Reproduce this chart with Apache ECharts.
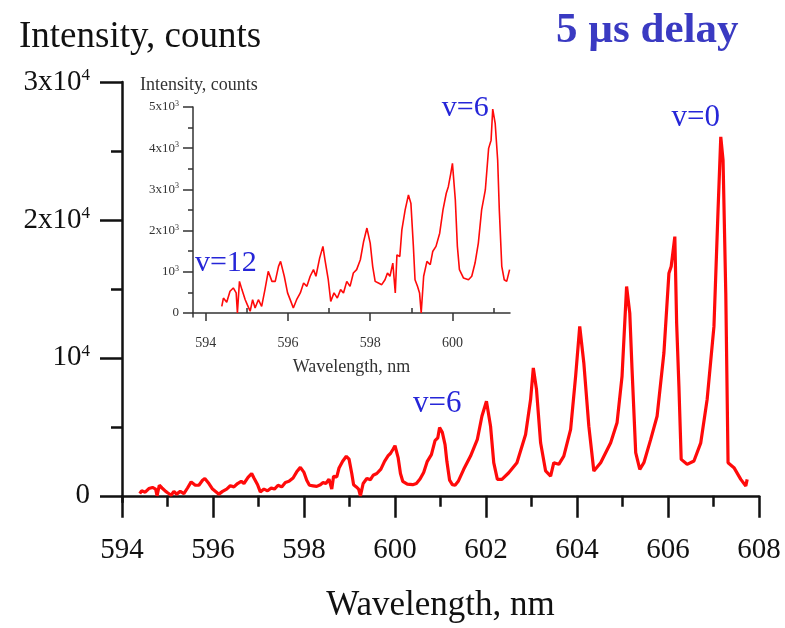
<!DOCTYPE html>
<html>
<head>
<meta charset="utf-8">
<script src="https://cdn.jsdelivr.net/npm/echarts@6/dist/echarts.min.js"></script>
<style>
  html, body { margin: 0; padding: 0; background: #fff; }
  #chart { width: 785px; height: 628px; }
</style>
</head>
<body>
<div id="chart"></div>
<script>
// Emission spectrum, 5 µs after the pulse
const wavelength = [
  594.39,594.43,594.51,594.59,594.67,594.74,594.77,594.82,594.88,594.96,
  595.01,595.08,595.14,595.20,595.28,595.36,595.44,595.52,595.61,595.69,
  595.77,595.82,595.91,595.99,596.07,596.13,596.21,596.30,596.38,596.46,
  596.54,596.62,596.68,596.77,596.85,596.90,596.98,597.04,597.12,597.20,
  597.28,597.35,597.43,597.51,597.59,597.67,597.76,597.84,597.92,598.00,
  598.06,598.12,598.20,598.28,598.36,598.42,598.48,598.55,598.61,598.65,
  598.72,598.77,598.85,598.93,598.99,599.05,599.09,599.15,599.20,599.24,
  599.30,599.38,599.46,599.52,599.60,599.69,599.77,599.85,599.90,599.96,
  600.00,600.07,600.12,600.17,600.27,600.39,600.47,600.55,600.63,600.71,
  600.80,600.88,600.94,600.98,601.04,601.10,601.14,601.20,601.26,601.32,601.39,
  601.51,601.66,601.81,601.91,602.01,602.10,602.17,602.25,602.35,602.50,
  602.68,602.87,602.98,603.04,603.11,603.20,603.31,603.42,603.49,603.60,
  603.71,603.86,603.97,604.06,604.15,604.26,604.37,604.52,604.74,604.88,
  604.99,605.09,605.16,605.21,605.29,605.38,605.47,605.62,605.76,605.91,
  606.02,606.07,606.15,606.19,606.24,606.29,606.42,606.57,606.72,606.86,
  607.01,607.10,607.16,607.21,607.27,607.32,607.45,607.60,607.71,607.74
];
const counts = [
  160,360,260,525,605,485,0,765,565,320,
  200,40,320,120,320,160,565,1010,765,765,
  1130,1250,890,485,280,120,320,485,725,645,
  890,1050,890,1330,1615,1290,805,280,485,360,
  565,485,765,645,970,1050,1290,1735,2060,1695,
  1130,765,725,685,805,970,890,1210,485,1410,
  1370,2015,2500,2865,2660,1615,805,645,485,0,
  890,1250,1170,1490,1615,1935,2500,2905,3065,3390,
  3630,2745,1615,1050,845,805,890,1210,1695,2500,
  2985,3995,4195,4950,4600,3710,2500,1130,805,765,1050,
  1920,2880,4090,5770,6860,5050,2400,1190,1190,1670,
  2400,4450,6980,9270,7700,3840,1800,1430,2400,2280,
  2880,4810,8670,12280,9630,5050,1800,2400,3840,5290,
  8670,15170,13240,9150,3130,1920,2400,4090,5770,10350,
  16130,16620,18790,12520,7940,2640,2280,2520,3840,6980,
  12280,20710,26020,24330,14690,2400,2040,1190,710,1190
];

// Tick values and labels (superscripts written as rich-text fragments)
const mainYTicks = [0, 10000, 20000, 30000];
const mainYLabels = ['0', '10{s|4}', '2x10{s|4}', '3x10{s|4}'];
const mainYMinor = [5000, 15000, 25000];
const insetXTicks = [594, 596, 598, 600];
const insetXMinor = [595, 597, 599, 601];
const insetYTicks = [0, 1000, 2000, 3000, 4000, 5000];
const insetYLabels = ['0', '10{s|3}', '2x10{s|3}', '3x10{s|3}', '4x10{s|3}', '5x10{s|3}'];
const insetYMinor = [500, 1500, 2500, 3500, 4500];
const insetLimit = 601.42;

// Vibrational band annotations
const mainBandLabels = [
  { name: 'v=0', value: [606.61, 27370] },
  { name: 'v=6', value: [600.93, 6690] }
];
const insetBandLabels = [
  { name: 'v=6', value: [600.31, 4970] },
  { name: 'v=12', value: [594.49, 1218] }
];

const FONT = 'Liberation Serif';
const BAND_BLUE = '#2626d8';
const spectrum = wavelength.map((w, i) => [w, counts[i]]);
const insetSpectrum = spectrum.filter(p => p[0] <= insetLimit);

const mainAxisLine = { lineStyle: { color: '#111', width: 2.5 } };
const insetAxisLine = { lineStyle: { color: '#333', width: 1.5 } };

const bandLabelSeries = (xi, yi, data, size) => ({
  type: 'scatter', xAxisIndex: xi, yAxisIndex: yi, data,
  symbolSize: 1, itemStyle: { color: 'rgba(0,0,0,0)' }, silent: true,
  label: { show: true, position: 'inside', formatter: '{b}', opacity: 1,
    fontFamily: FONT, fontSize: size, color: BAND_BLUE }
});

const chart = echarts.init(document.getElementById('chart'));
chart.setOption({
  animation: false,
  backgroundColor: '#fff',
  title: [
    { text: 'Intensity, counts', left: 19, top: 19, padding: 0,
      textStyle: { fontFamily: FONT, fontSize: 37, fontWeight: 'normal', color: '#111' } },
    { text: '5 µs delay', left: 556, top: 9, padding: 0,
      textStyle: { fontFamily: FONT, fontSize: 43, fontWeight: 'bold', color: '#3a3ac2' } },
    { text: 'Intensity, counts', left: 140, top: 76, padding: 0,
      textStyle: { fontFamily: FONT, fontSize: 18, fontWeight: 'normal', color: '#333' } }
  ],
  grid: [
    { left: 122, right: 26, top: 82, bottom: 125 },
    { left: 193, right: 275, top: 107, bottom: 311 }
  ],
  xAxis: [
    {
      gridIndex: 0, type: 'value', min: 594, max: 608, interval: 2,
      axisLine: mainAxisLine,
      axisTick: { length: 22, lineStyle: { color: '#111', width: 2.5 } },
      minorTick: { show: true, splitNumber: 2, length: 11, lineStyle: { color: '#111', width: 2.5 } },
      splitLine: { show: false },
      axisLabel: { fontFamily: FONT, fontSize: 29, color: '#111', margin: 34 },
      name: 'Wavelength, nm', nameLocation: 'middle', nameGap: 86,
      nameTextStyle: { fontFamily: FONT, fontSize: 35, color: '#111' }
    },
    {
      gridIndex: 1, type: 'value', min: 593.69, max: 601.40,
      axisLine: insetAxisLine,
      axisTick: { customValues: insetXTicks, length: 8, lineStyle: { color: '#333', width: 1.5 } },
      splitLine: { show: false },
      axisLabel: { customValues: insetXTicks, fontFamily: FONT, fontSize: 14, color: '#333', margin: 19 },
      name: 'Wavelength, nm', nameLocation: 'middle', nameGap: 41,
      nameTextStyle: { fontFamily: FONT, fontSize: 18, color: '#333' }
    },
    {
      gridIndex: 1, type: 'value', min: 593.69, max: 601.40,
      axisLine: { show: false },
      axisTick: { customValues: insetXMinor, length: 5, lineStyle: { color: '#333', width: 1.5 } },
      splitLine: { show: false },
      axisLabel: { show: false }
    }
  ],
  yAxis: [
    {
      gridIndex: 0, type: 'value', position: 'left', min: -450, max: 30000,
      axisLine: { show: true, ...mainAxisLine },
      axisTick: { show: true, customValues: mainYTicks, length: 22, lineStyle: { color: '#111', width: 2.5 } },
      splitLine: { show: false },
      axisLabel: {
        customValues: mainYTicks, fontFamily: FONT, fontSize: 29, color: '#111', margin: 32,
        formatter: v => mainYLabels[mainYTicks.indexOf(v)],
        rich: { s: { fontFamily: FONT, fontSize: 17, color: '#111', verticalAlign: 'top', padding: [0, 0, 12, 0] } }
      }
    },
    {
      gridIndex: 0, type: 'value', position: 'left', offset: 0, min: -450, max: 30000,
      axisLine: { show: false },
      axisTick: { show: true, customValues: mainYMinor, length: 11, lineStyle: { color: '#111', width: 2.5 } },
      splitLine: { show: false },
      axisLabel: { show: false }
    },
    {
      gridIndex: 1, type: 'value', position: 'left', min: -100, max: 5000,
      axisLine: { show: true, ...insetAxisLine },
      axisTick: { show: true, customValues: insetYTicks, length: 10, lineStyle: { color: '#333', width: 1.5 } },
      splitLine: { show: false },
      axisLabel: {
        customValues: insetYTicks, fontFamily: FONT, fontSize: 13, color: '#333', margin: 14,
        formatter: v => insetYLabels[insetYTicks.indexOf(v)],
        rich: { s: { fontFamily: FONT, fontSize: 8, color: '#333', verticalAlign: 'top', padding: [0, 0, 6, 0] } }
      }
    },
    {
      gridIndex: 1, type: 'value', position: 'left', offset: 0, min: -100, max: 5000,
      axisLine: { show: false },
      axisTick: { show: true, customValues: insetYMinor, length: 5, lineStyle: { color: '#333', width: 1.5 } },
      splitLine: { show: false },
      axisLabel: { show: false }
    }
  ],
  series: [
    {
      type: 'line', xAxisIndex: 0, yAxisIndex: 0, data: spectrum,
      showSymbol: false, lineStyle: { color: '#ff0a0a', width: 3.2 }, silent: true
    },
    {
      type: 'line', xAxisIndex: 1, yAxisIndex: 2, data: insetSpectrum,
      showSymbol: false, lineStyle: { color: '#ff0a0a', width: 1.6 }, silent: true
    },
    bandLabelSeries(0, 0, mainBandLabels, 31),
    bandLabelSeries(1, 2, insetBandLabels, 30)
  ]
});
</script>
</body>
</html>
